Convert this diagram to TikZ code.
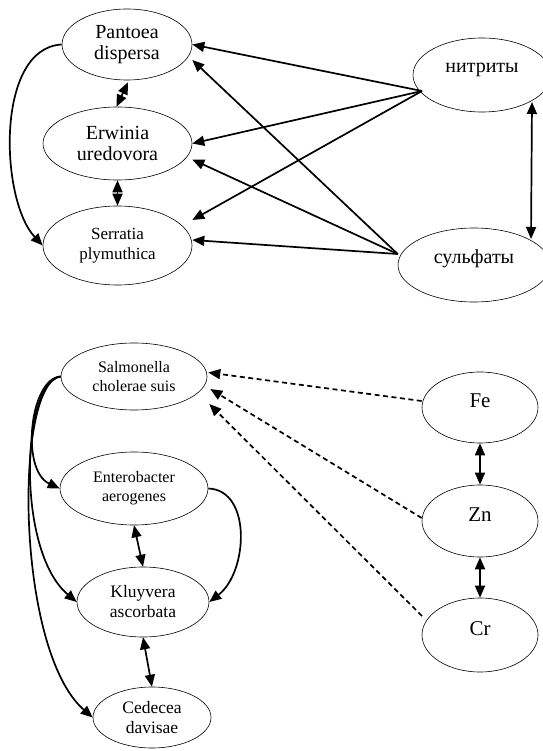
\documentclass[tikz,border=0pt]{standalone}
\usepackage{fontspec}
\setmainfont{Liberation Serif}
\usetikzlibrary{arrows.meta,shapes.geometric}
\newcommand\rsb[2]{\raisebox{#1}[0pt][0pt]{#2}}
\begin{document}
\begin{tikzpicture}[x=1pt,y=-1pt,
  ell/.style={ellipse,draw,line width=0.6pt,inner sep=0pt,align=center},
  sz/.style 2 args={minimum width=#1pt,minimum height=#2pt},
  fa/.style={font=\fontsize{20}{21}\selectfont},
  fb/.style={font=\fontsize{17}{20}\selectfont},
  fc/.style={font=\fontsize{16}{19}\selectfont},
  fd/.style={font=\fontsize{17.5}{20}\selectfont},
  fe/.style={font=\fontsize{21}{22}\selectfont},
  tip/.style={line width=1.7pt,-{Triangle[length=12pt,width=10pt]}},
  dbl/.style={line width=1.7pt,{Triangle[length=12pt,width=10pt]}-{Triangle[length=12pt,width=10pt]}},
  dtip/.style={tip,dash pattern=on 5pt off 3.5pt}]
\useasboundingbox (0,0) rectangle (542,751);
% top group
\node[ell,fa,sz={130}{71}] (pan) at (127,44.5) {Pantoea\\dispersa};
\node[ell,fa,sz={149}{73}] (erw) at (117.5,143.5) {Erwinia\\uredovora};
\node[ell,fb,sz={149}{79}] (ser) at (117.5,245.5) {Serratia\\plymuthica};
\node[ell,fa,sz={138}{74}] (nit) at (482,75) {\rsb{2pt}{нитриты}};
\node[ell,fa,sz={152}{74}] (sul) at (474,265) {\rsb{2pt}{сульфаты}};
\draw[tip] ([xshift=-60pt,yshift=-16pt]nit.center) -- (pan.east);
\draw[tip] ([xshift=-60pt,yshift=-16pt]nit.center) -- (erw.east);
\draw[tip] ([xshift=-60pt,yshift=-16pt]nit.center) -- ([yshift=25.5pt]ser.east);
\draw[tip] ([yshift=11pt]sul.west) -- ([yshift=-15.5pt]pan.east);
\draw[tip] ([yshift=11pt]sul.west) -- ([yshift=-16pt]erw.east);
\draw[tip] ([yshift=11pt]sul.west) -- ([yshift=5.5pt]ser.east);
\draw[dbl] ([xshift=50pt,yshift=-27pt]nit.center) -- ([xshift=57pt,yshift=26pt]sul.center);
\draw[dbl] ([xshift=1pt,yshift=-2pt]pan.south) -- ([xshift=-1pt]erw.north);
\draw[dbl] (erw.south) -- (ser.north);
\draw[tip] (pan.west) .. controls (-5,48) and (0,200) .. (ser.west);
% bottom group
\node[ell,fc,sz={146}{67}] (sal) at (134,376.5) {Salmonella\\cholerae suis};
\node[ell,fc,sz={148}{73}] (ent) at (134,488.5) {Enterobacter\\aerogenes};
\node[ell,fd,sz={132}{70}] (kly) at (143,602) {Kluyvera\\ascorbata};
\node[ell,fd,sz={118}{61}] (ced) at (152,717.5) {Cedecea\\davisae};
\node[ell,fe,sz={116}{71}] (fe) at (480,407.5) {\rsb{0pt}{Fe}};
\node[ell,fe,sz={116}{72}] (zn) at (480,521) {\rsb{0pt}{Zn}};
\node[ell,fe,sz={116}{74}] (cr) at (480,635) {\rsb{0pt}{Cr}};
\draw[dtip] ([yshift=6.5pt]fe.west) -- ([xshift=1pt,yshift=4pt]sal.east);
\draw[dtip] ([yshift=3pt]zn.west) -- ([xshift=3pt,yshift=-12.5pt]sal.east);
\draw[dtip] ([xshift=-58pt,yshift=19pt]cr.center) -- ([xshift=2pt,yshift=-27.5pt]sal.east);
\draw[dbl] (fe.south) -- (zn.north);
\draw[dbl] (zn.south) -- (cr.north);
\draw[dbl] (ent.south) -- (kly.north);
\draw[dbl] (kly.south) -- (ced.north);
\draw[tip] (sal.west) .. controls (30,378) and (20,470) .. (ent.west);
\draw[tip] (sal.west) .. controls (22,380) and (15,550) .. (kly.west);
\draw[tip] (sal.west) .. controls (14,382) and (15,650) .. (ced.west);
\draw[tip] (ent.east) .. controls (252,490) and (248,572) .. (kly.east);
\end{tikzpicture}
\end{document}
